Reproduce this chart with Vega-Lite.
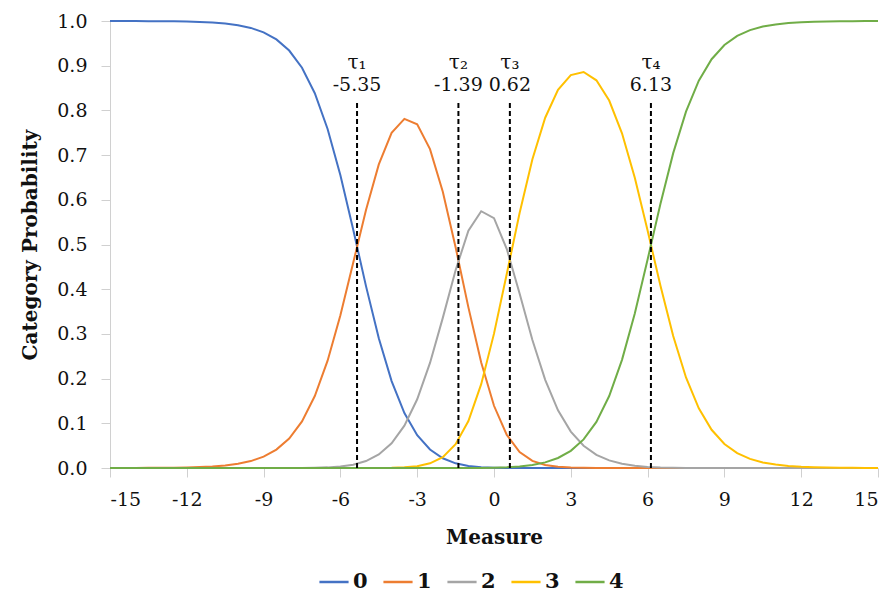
{
  "$schema": "https://vega.github.io/schema/vega-lite/v6.json",
  "width": 768,
  "height": 447,
  "autosize": {"type": "none"},
  "padding": {"left": 110, "top": 21, "right": 18, "bottom": 127},
  "background": "white",
  "config": {
    "view": {"stroke": null},
    "font": "DejaVu Serif",
    "axis": {"grid": false, "domainColor": "#d0d0d0", "tickColor": "#d0d0d0", "tickSize": 9, "labelFont": "DejaVu Serif", "labelFontSize": 19, "labelColor": "#111", "titleFont": "DejaVu Serif", "titleFontSize": 20, "titleFontWeight": "bold", "titleColor": "#111"}
  },
  "datasets": {
    "curves": [
      {"x": -15, "0": 0.9999, "1": 0.0001, "2": 0, "3": 0, "4": 0},
      {"x": -14.5, "0": 0.9999, "1": 0.0001, "2": 0, "3": 0, "4": 0},
      {"x": -14, "0": 0.9998, "1": 0.0002, "2": 0, "3": 0, "4": 0},
      {"x": -13.5, "0": 0.9997, "1": 0.0003, "2": 0, "3": 0, "4": 0},
      {"x": -13, "0": 0.9995, "1": 0.0005, "2": 0, "3": 0, "4": 0},
      {"x": -12.5, "0": 0.9992, "1": 0.0008, "2": 0, "3": 0, "4": 0},
      {"x": -12, "0": 0.9987, "1": 0.0013, "2": 0, "3": 0, "4": 0},
      {"x": -11.5, "0": 0.9979, "1": 0.0021, "2": 0, "3": 0, "4": 0},
      {"x": -11, "0": 0.9965, "1": 0.0035, "2": 0, "3": 0, "4": 0},
      {"x": -10.5, "0": 0.9942, "1": 0.0058, "2": 0, "3": 0, "4": 0},
      {"x": -10, "0": 0.9905, "1": 0.0095, "2": 0, "3": 0, "4": 0},
      {"x": -9.5, "0": 0.9845, "1": 0.0155, "2": 0, "3": 0, "4": 0},
      {"x": -9, "0": 0.9747, "1": 0.0253, "2": 0, "3": 0, "4": 0},
      {"x": -8.5, "0": 0.9589, "1": 0.0411, "2": 0, "3": 0, "4": 0},
      {"x": -8, "0": 0.9339, "1": 0.066, "2": 0.0001, "3": 0, "4": 0},
      {"x": -7.5, "0": 0.8954, "1": 0.1043, "2": 0.0002, "3": 0, "4": 0},
      {"x": -7, "0": 0.8384, "1": 0.161, "2": 0.0006, "3": 0, "4": 0},
      {"x": -6.5, "0": 0.7584, "1": 0.2401, "2": 0.0014, "3": 0, "4": 0},
      {"x": -6, "0": 0.6548, "1": 0.3418, "2": 0.0034, "3": 0, "4": 0},
      {"x": -5.5, "0": 0.5334, "1": 0.4591, "2": 0.0075, "3": 0, "4": 0},
      {"x": -5, "0": 0.4069, "1": 0.5774, "2": 0.0156, "3": 0.0001, "4": 0},
      {"x": -4.5, "0": 0.2903, "1": 0.6792, "2": 0.0303, "3": 0.0002, "4": 0},
      {"x": -4, "0": 0.1944, "1": 0.7499, "2": 0.0552, "3": 0.0005, "4": 0},
      {"x": -3.5, "0": 0.1228, "1": 0.781, "2": 0.0947, "3": 0.0015, "4": 0},
      {"x": -3, "0": 0.0733, "1": 0.7689, "2": 0.1537, "3": 0.0041, "4": 0},
      {"x": -2.5, "0": 0.0413, "1": 0.7133, "2": 0.2351, "3": 0.0104, "4": 0},
      {"x": -2, "0": 0.0217, "1": 0.6181, "2": 0.3358, "3": 0.0244, "4": 0},
      {"x": -1.5, "0": 0.0105, "1": 0.4939, "2": 0.4425, "3": 0.0531, "4": 0},
      {"x": -1, "0": 0.0046, "1": 0.3594, "2": 0.5308, "3": 0.1051, "4": 0.0001},
      {"x": -0.5, "0": 0.0018, "1": 0.2359, "2": 0.5745, "3": 0.1875, "4": 0.0002},
      {"x": 0, "0": 0.0007, "1": 0.1392, "2": 0.5589, "3": 0.3006, "4": 0.0007},
      {"x": 0.5, "0": 0.0002, "1": 0.074, "2": 0.4898, "3": 0.4344, "4": 0.0016},
      {"x": 1, "0": 0.0001, "1": 0.0358, "2": 0.3902, "3": 0.5706, "4": 0.0034},
      {"x": 1.5, "0": 0, "1": 0.016, "2": 0.2865, "3": 0.6908, "4": 0.0067},
      {"x": 2, "0": 0, "1": 0.0067, "2": 0.1972, "3": 0.7836, "4": 0.0126},
      {"x": 2.5, "0": 0, "1": 0.0026, "2": 0.1291, "3": 0.8459, "4": 0.0224},
      {"x": 3, "0": 0, "1": 0.001, "2": 0.0814, "3": 0.8791, "4": 0.0384},
      {"x": 3.5, "0": 0, "1": 0.0004, "2": 0.0497, "3": 0.886, "4": 0.0639},
      {"x": 4, "0": 0, "1": 0.0001, "2": 0.0295, "3": 0.8673, "4": 0.103},
      {"x": 4.5, "0": 0, "1": 0, "2": 0.017, "3": 0.822, "4": 0.161},
      {"x": 5, "0": 0, "1": 0, "2": 0.0094, "3": 0.7488, "4": 0.2419},
      {"x": 5.5, "0": 0, "1": 0, "2": 0.0049, "3": 0.6493, "4": 0.3458},
      {"x": 6, "0": 0, "1": 0, "2": 0.0024, "3": 0.5311, "4": 0.4664},
      {"x": 6.5, "0": 0, "1": 0, "2": 0.0011, "3": 0.4081, "4": 0.5908},
      {"x": 7, "0": 0, "1": 0, "2": 0.0005, "3": 0.2951, "4": 0.7044},
      {"x": 7.5, "0": 0, "1": 0, "2": 0.0002, "3": 0.2026, "4": 0.7972},
      {"x": 8, "0": 0, "1": 0, "2": 0.0001, "3": 0.1335, "4": 0.8664},
      {"x": 8.5, "0": 0, "1": 0, "2": 0, "3": 0.0855, "4": 0.9145},
      {"x": 9, "0": 0, "1": 0, "2": 0, "3": 0.0537, "4": 0.9463},
      {"x": 9.5, "0": 0, "1": 0, "2": 0, "3": 0.0332, "4": 0.9668},
      {"x": 10, "0": 0, "1": 0, "2": 0, "3": 0.0204, "4": 0.9796},
      {"x": 10.5, "0": 0, "1": 0, "2": 0, "3": 0.0125, "4": 0.9875},
      {"x": 11, "0": 0, "1": 0, "2": 0, "3": 0.0076, "4": 0.9924},
      {"x": 11.5, "0": 0, "1": 0, "2": 0, "3": 0.0046, "4": 0.9954},
      {"x": 12, "0": 0, "1": 0, "2": 0, "3": 0.0028, "4": 0.9972},
      {"x": 12.5, "0": 0, "1": 0, "2": 0, "3": 0.0017, "4": 0.9983},
      {"x": 13, "0": 0, "1": 0, "2": 0, "3": 0.001, "4": 0.999},
      {"x": 13.5, "0": 0, "1": 0, "2": 0, "3": 0.0006, "4": 0.9994},
      {"x": 14, "0": 0, "1": 0, "2": 0, "3": 0.0004, "4": 0.9996},
      {"x": 14.5, "0": 0, "1": 0, "2": 0, "3": 0.0002, "4": 0.9998},
      {"x": 15, "0": 0, "1": 0, "2": 0, "3": 0.0001, "4": 0.9999}
    ],
    "thresholds": [
      {"x": -5.35, "tau": "τ₁", "label": "-5.35"},
      {"x": -1.39, "tau": "τ₂", "label": "-1.39"},
      {"x": 0.62, "tau": "τ₃", "label": "0.62"},
      {"x": 6.13, "tau": "τ₄", "label": "6.13"}
    ]
  },
  "layer": [
    {
      "data": {"name": "curves"},
      "transform": [{"fold": ["0", "1", "2", "3", "4"], "as": ["category", "p"]}],
      "mark": {"type": "line", "strokeWidth": 2, "clip": false},
      "encoding": {
        "x": {"field": "x", "type": "quantitative", "scale": {"domain": [-15, 15], "nice": false, "zero": false}, "axis": {"values": [-15, -12, -9, -6, -3, 0, 3, 6, 9, 12, 15], "labelExpr": "'' + datum.value", "title": "Measure", "labelPadding": 13, "titlePadding": 18}},
        "y": {"field": "p", "type": "quantitative", "scale": {"domain": [0, 1], "nice": false}, "axis": {"values": [0, 0.1, 0.2, 0.3, 0.4, 0.5, 0.6, 0.7, 0.8, 0.9, 1], "format": ".1f", "title": "Category Probability", "labelPadding": 14, "titlePadding": 16}},
        "color": {
          "field": "category", "type": "nominal",
          "scale": {"domain": ["0", "1", "2", "3", "4"], "range": ["#4472C4", "#ED7D31", "#A5A5A5", "#FFC000", "#70AD47"]},
          "legend": {"title": null, "orient": "none", "direction": "horizontal", "legendX": 208, "legendY": 545, "symbolType": "stroke", "symbolSize": 850, "symbolStrokeWidth": 2.5, "labelFont": "DejaVu Serif", "labelFontSize": 21, "labelFontWeight": "bold", "labelColor": "#111", "columnPadding": 10, "labelOffset": 3, "padding": 0}
        }
      }
    },
    {
      "data": {"name": "thresholds"},
      "mark": {"type": "rule", "color": "black", "strokeWidth": 2, "strokeDash": [5, 3]},
      "encoding": {
        "x": {"field": "x", "type": "quantitative"},
        "y": {"datum": 0},
        "y2": {"datum": 0.82}
      }
    },
    {
      "data": {"name": "thresholds"},
      "mark": {"type": "text", "font": "DejaVu Serif", "fontSize": 20, "color": "#111", "baseline": "middle"},
      "encoding": {
        "x": {"field": "x", "type": "quantitative"},
        "y": {"datum": 0.906},
        "text": {"field": "tau"}
      }
    },
    {
      "data": {"name": "thresholds"},
      "mark": {"type": "text", "font": "DejaVu Serif", "fontSize": 19, "color": "#111", "baseline": "middle"},
      "encoding": {
        "x": {"field": "x", "type": "quantitative"},
        "y": {"datum": 0.857},
        "text": {"field": "label"}
      }
    }
  ]
}
